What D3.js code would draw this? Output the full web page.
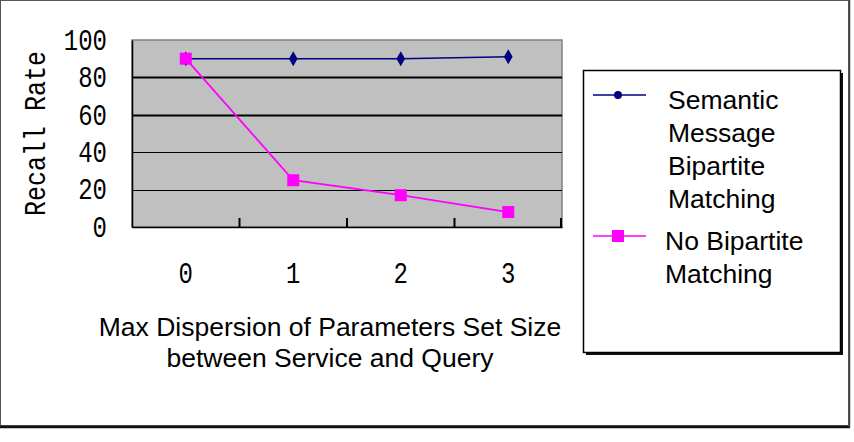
<!DOCTYPE html>
<meta charset="utf-8">
<head>
<title>Recall Rate</title>
<style>
  body { margin: 0; background: #fff; }
  svg { display: block; }
</style>
</head>
<body>
<div id="chart"></div>
<script src="https://d3js.org/d3.v7.min.js"></script>
<script>

// data
var categories = ["0", "1", "2", "3"];
var semanticValues = [90, 90, 90, 91];
var noBipartiteValues = [90, 25, 17, 8];
var yTicks = [0, 20, 40, 60, 80, 100];
var seriesNames = [["Semantic", "Message", "Bipartite", "Matching"], ["No Bipartite", "Matching"]];
var xTitle = ["Max Dispersion of Parameters Set Size", "between Service and Query"];
var yTitle = "Recall Rate";

var width = 854, height = 442;
var plot = {left: 132, top: 40, right: 562, bottom: 227};

var svg = d3.select("#chart")
  .append("svg")
  .attr("width", width)
  .attr("height", height);

// outer frame
svg.append("rect")
  .attr("x", 0.5).attr("y", 0.5)
  .attr("width", 848).attr("height", 425)
  .attr("fill", "#fff")
  .attr("stroke", "#555");
svg.append("line")
  .attr("x1", 0).attr("x2", 850)
  .attr("y1", 427).attr("y2", 427)
  .attr("stroke", "#111").attr("stroke-width", 2.5);
svg.append("line")
  .attr("x1", 849.5).attr("x2", 849.5)
  .attr("y1", 0).attr("y2", 427)
  .attr("stroke", "#444").attr("stroke-width", 1.5);

var x = d3.scaleBand()
  .domain(categories)
  .range([plot.left, plot.right])
  .padding(0);

var y = d3.scaleLinear()
  .domain([0, 100])
  .range([plot.bottom, plot.top]);

// plot background
svg.append("rect")
  .attr("x", plot.left).attr("y", plot.top)
  .attr("width", plot.right - plot.left)
  .attr("height", plot.bottom - plot.top)
  .attr("fill", "#c0c0c0")
  .attr("stroke", "#808080")
  .attr("stroke-width", 1.5);

// gridlines
svg.selectAll("grid")
  .data(yTicks.filter(d => d > 0 && d < 100))
  .enter()
  .append("line")
  .attr("x1", plot.left).attr("x2", plot.right)
  .attr("y1", d => Math.round(y(d)) + 0.5)
  .attr("y2", d => Math.round(y(d)) + 0.5)
  .attr("stroke", "#000")
  .attr("stroke-width", d => d >= 60 ? 2 : 1.2);

// y axis
var yaxis = svg.append("g")
  .attr("transform", "translate(" + plot.left + ",0)")
  .call(d3.axisLeft(y).tickValues(yTicks).tickSize(0).tickPadding(25));
yaxis.select(".domain").attr("stroke", "#000").attr("stroke-width", 1.5);
yaxis.selectAll("text")
  .attr("transform", "scale(1,1.2)")
  .style("font-family", "'Liberation Mono', monospace")
  .style("font-size", "24px")
  .attr("fill", "#000");

// x axis: ticks sit on category boundaries and point inward
var xaxis = svg.append("g")
  .attr("transform", "translate(0," + plot.bottom + ")")
  .call(d3.axisBottom(x).tickSize(0).tickPadding(30));
xaxis.select(".domain").attr("stroke", "#000").attr("stroke-width", 1.5);
xaxis.selectAll("text")
  .attr("transform", "scale(1,1.2)")
  .style("font-family", "'Liberation Mono', monospace")
  .style("font-size", "24px")
  .attr("fill", "#000");
xaxis.selectAll("boundary")
  .data(categories.slice(1).concat(["end"]))
  .enter()
  .append("line")
  .attr("x1", (d, i) => i < 3 ? x(d) : plot.right - 1)
  .attr("x2", (d, i) => i < 3 ? x(d) : plot.right - 1)
  .attr("y1", 0).attr("y2", -9)
  .attr("stroke", "#000").attr("stroke-width", 2);

// axis titles
svg.append("text")
  .attr("transform", "translate(45," + (plot.top + plot.bottom) / 2 + ") rotate(-90) scale(1,1.2)")
  .attr("text-anchor", "middle")
  .style("font-family", "'Liberation Mono', monospace")
  .style("font-size", "25px")
  .text(yTitle);

svg.selectAll("xtitle")
  .data(xTitle)
  .enter()
  .append("text")
  .attr("x", 330)
  .attr("y", (d, i) => 336 + i * 31)
  .attr("text-anchor", "middle")
  .style("font-family", "'Liberation Sans', Arial, sans-serif")
  .style("font-size", "26.5px")
  .text(d => d);

// series
var cx = d => x(d) + x.bandwidth() / 2;
var line = d3.line()
  .x((d, i) => cx(categories[i]))
  .y(d => y(d));

svg.append("path")
  .datum(semanticValues)
  .attr("d", line)
  .attr("fill", "none")
  .attr("stroke", "#000080")
  .attr("stroke-width", 1.5);

svg.append("path")
  .datum(noBipartiteValues)
  .attr("d", line)
  .attr("fill", "none")
  .attr("stroke", "#ff00ff")
  .attr("stroke-width", 1.8);

var diamond = d3.symbol().type(d3.symbolDiamond).size(65);

svg.selectAll("semDots")
  .data(semanticValues)
  .enter()
  .append("path")
  .attr("d", diamond)
  .attr("transform", (d, i) => "translate(" + cx(categories[i]) + "," + y(d) + ")")
  .attr("fill", "#000080");

svg.selectAll("nbSquares")
  .data(noBipartiteValues)
  .enter()
  .append("rect")
  .attr("x", (d, i) => cx(categories[i]) - 6)
  .attr("y", d => y(d) - 6)
  .attr("width", 12).attr("height", 12)
  .attr("fill", "#ff00ff");

// legend
svg.append("rect")
  .attr("x", 586).attr("y", 73)
  .attr("width", 257).attr("height", 282)
  .attr("fill", "#111");
svg.append("rect")
  .attr("x", 583.5).attr("y", 70.5)
  .attr("width", 257).attr("height", 282)
  .attr("fill", "#fff")
  .attr("stroke", "#000")
  .attr("stroke-width", 1.5);

var legendY = [95, 236];
var legendColors = ["#000080", "#ff00ff"];

var entries = svg.selectAll("legendEntry")
  .data(seriesNames)
  .enter()
  .append("g")
  .attr("transform", (d, i) => "translate(0," + legendY[i] + ")");

entries.append("line")
  .attr("x1", 593).attr("x2", 646)
  .attr("y1", 0).attr("y2", 0)
  .attr("stroke", (d, i) => legendColors[i])
  .attr("stroke-width", 1.5);

entries.each(function(d, i) {
  var g = d3.select(this);
  if (i === 0) {
    g.append("circle").attr("cx", 618).attr("cy", 0).attr("r", 4).attr("fill", legendColors[i]);
  } else {
    g.append("rect").attr("x", 612).attr("y", -6).attr("width", 12).attr("height", 12).attr("fill", legendColors[i]);
  }
  g.selectAll("text")
    .data(d)
    .enter()
    .append("text")
    .attr("x", i === 0 ? 668 : 665)
    .attr("y", (t, j) => 14 + j * 33)
    .style("font-family", "'Liberation Sans', Arial, sans-serif")
    .style("font-size", "26.5px")
    .text(t => t);
});

</script>
</body>
</html>
